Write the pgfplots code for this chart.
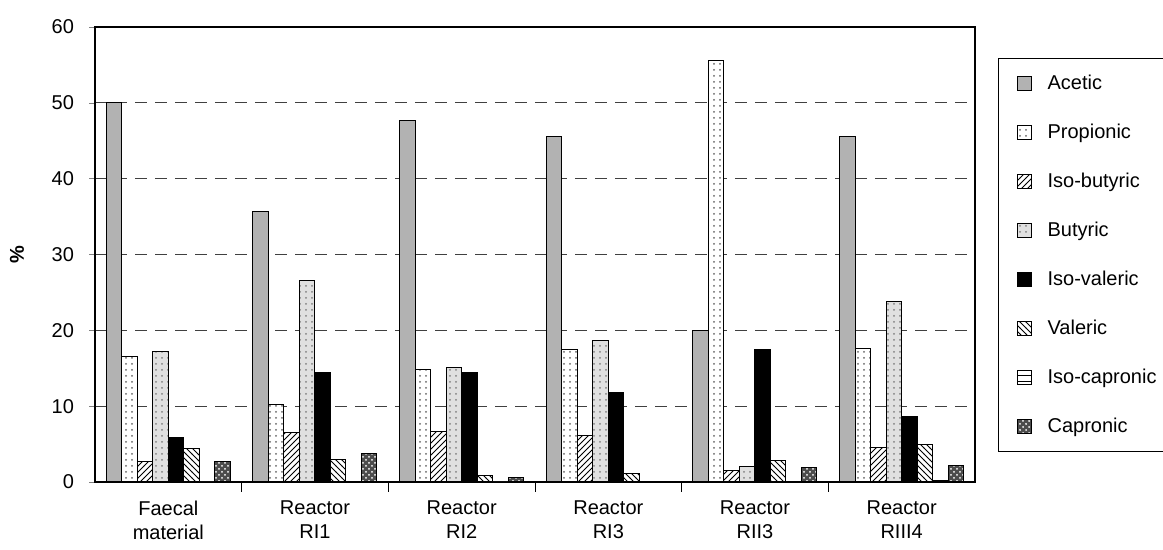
\documentclass[border=0pt]{standalone}
\usepackage{fontspec}
\setmainfont{Liberation Sans}
\usepackage{pgfplots}
\pgfplotsset{compat=1.18}
\usetikzlibrary{patterns}
\pgfplotstableread{
x  ace  pro  ibu  but  iva  val  ica  cap
0  50.0 16.5 2.7  17.2 5.9  4.4  0.0  2.7
1  35.7 10.2 6.5  26.6 14.4 3.0  0.1  3.7
2  47.7 14.8 6.7  15.1 14.4 0.8  0.0  0.6
3  45.6 17.5 6.1  18.6 11.8 1.1  0.1  0.1
4  20.0 55.6 1.5  2.0  17.5 2.8  0.1  1.9
5  45.5 17.6 4.6  23.8 8.6  5.0  0.2  2.2
}\data
\begin{document}
\begin{tikzpicture}
\useasboundingbox (0,0) rectangle (581.5pt,275pt);
\begin{axis}[
  at={(47.5pt,34pt)}, anchor=south west,
  scale only axis, width=440pt, height=227.5pt,
  ymin=0, ymax=60, ytick={0,10,...,60},
  xmin=-0.5, xmax=5.5,
  xtick={0,...,5},
  xticklabels={{Faecal\\material},{Reactor\\RI1},{Reactor\\RI2},{Reactor\\RI3},{Reactor\\RII3},{Reactor\\RIII4}},
  minor xtick={0.5,1.5,2.5,3.5,4.5},
  major x tick style={draw=none},
  minor x tick style={draw=black},
  minor tick length=5pt,
  major tick length=3pt,
  tick align=outside,
  tick pos=left,
  font=\fontsize{10}{12}\selectfont,
  /pgf/number format/assume math mode=true,
  xticklabel style={align=center, yshift=-3pt},
  yticklabel style={xshift=-4pt},
  ylabel={\%},
  ylabel style={at={(axis description cs:-0.0886,0.5)}, anchor=center, font=\fontsize{10}{12}\selectfont\bfseries},
  ymajorgrids,
  grid style={dash pattern=on 6pt off 4pt, black!75, line width=0.5pt},
  axis line style={line width=0.8pt},
  ybar=0pt, bar width=7.75pt,
  legend image code/.code={\draw[#1] (0pt,-3.5pt) rectangle (7pt,3.5pt);},
  legend cell align=left,
  legend style={at={(1,1)}, anchor=north west, xshift=11.5pt, yshift=-15.5pt,
    draw=black, line width=0.6pt, inner xsep=9pt, inner ysep=6.75pt, row sep=13pt,
    font=\fontsize{10}{12}\selectfont,
    nodes={inner sep=1pt, text height=7.5pt, text depth=2pt},
    /tikz/every odd column/.append style={column sep=7pt}},
]
\addplot[draw=black, line width=0.5pt, fill=black!30] table[x=x,y=ace]{\data};
\addplot[draw=black, line width=0.5pt, fill=white, postaction={pattern=dots, pattern color=black!60}] table[x=x,y=pro]{\data};
\addplot[draw=black, line width=0.5pt, fill=white, postaction={pattern=north east lines, pattern color=black}] table[x=x,y=ibu]{\data};
\addplot[draw=black, line width=0.5pt, fill=black!12, postaction={pattern=dots, pattern color=black!50}] table[x=x,y=but]{\data};
\addplot[draw=black, line width=0.5pt, fill=black] table[x=x,y=iva]{\data};
\addplot[draw=black, line width=0.5pt, fill=white, postaction={pattern=north west lines, pattern color=black}] table[x=x,y=val]{\data};
\addplot[draw=black, line width=0.5pt, fill=white, postaction={pattern=horizontal lines, pattern color=black}] table[x=x,y=ica]{\data};
\addplot[draw=black, line width=0.5pt, fill=black!70, postaction={pattern=crosshatch dots, pattern color=white}] table[x=x,y=cap]{\data};
\legend{Acetic,Propionic,Iso-butyric,Butyric,Iso-valeric,Valeric,Iso-capronic,Capronic}
\end{axis}
\end{tikzpicture}
\end{document}
